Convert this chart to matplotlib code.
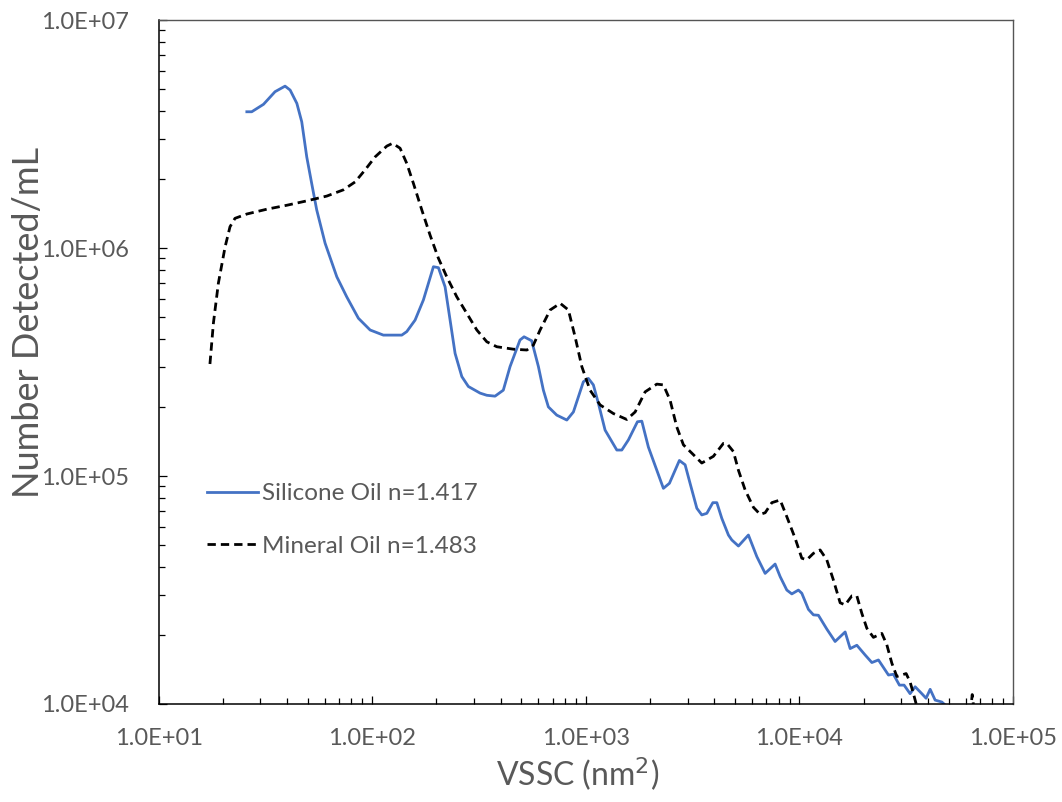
import matplotlib
matplotlib.use("Agg")
import matplotlib.pyplot as plt
from matplotlib.ticker import LogLocator, FuncFormatter, NullFormatter

# ── Data (VSSC in nm^2, counts per mL) ───────────────────────────────────────
silicone_x = [25.9, 27.3, 31.0, 35.1, 39.1, 41.3, 44.4, 46.8, 49.4, 52.1, 55.0,
              60.2, 68.3, 76.0, 86.2, 97.8, 112.8, 137.6, 145.2, 158.8, 173.7,
              193.5, 204.2, 219.4, 231.6, 244.4, 262.8, 282, 320, 344, 376, 411,
              442, 492, 514, 558, 600, 633, 668, 731, 815, 875, 974, 1028, 1085,
              1146, 1231, 1397, 1474, 1583, 1745, 1829, 1963, 2150, 2308, 2463,
              2742, 2917, 3077, 3310, 3491, 3686, 3933, 4106, 4332, 4652, 4826,
              5182, 5770, 6319, 6911, 7695, 8124, 8730, 9214, 9892, 10260, 11020,
              11630, 12270, 13440, 14690, 16370, 17280, 18570, 20310, 21830,
              23440, 26110, 27540, 29380, 30900, 32960, 34820, 37410, 39170,
              40930, 43190, 46430, 48080, 50000]
silicone_y = [3.96e6, 3.96e6, 4.27e6, 4.85e6, 5.13e6, 4.93e6, 4.31e6, 3.58e6,
              2.51e6, 1.92e6, 1.47e6, 1.05e6, 7.48e5, 6.11e5, 4.92e5, 4.37e5,
              4.15e5, 4.15e5, 4.30e5, 4.83e5, 5.92e5, 8.28e5, 8.20e5, 6.76e5,
              4.83e5, 3.45e5, 2.73e5, 2.47e5, 2.31e5, 2.26e5, 2.24e5, 2.38e5,
              3.02e5, 3.95e5, 4.08e5, 3.92e5, 3.02e5, 2.38e5, 2.01e5, 1.85e5,
              1.76e5, 1.91e5, 2.59e5, 2.68e5, 2.51e5, 2.08e5, 1.59e5, 1.30e5,
              1.30e5, 1.44e5, 1.73e5, 1.74e5, 1.34e5, 1.06e5, 8.83e4, 9.29e4,
              1.17e5, 1.12e5, 9.29e4, 7.22e4, 6.75e4, 6.86e4, 7.64e4, 7.64e4,
              6.52e4, 5.51e4, 5.24e4, 4.93e4, 5.51e4, 4.43e4, 3.74e4, 4.11e4,
              3.62e4, 3.16e4, 3.04e4, 3.16e4, 3.06e4, 2.60e4, 2.46e4, 2.45e4,
              2.13e4, 1.88e4, 2.07e4, 1.75e4, 1.81e4, 1.64e4, 1.52e4, 1.56e4,
              1.34e4, 1.35e4, 1.21e4, 1.21e4, 1.11e4, 1.19e4, 1.11e4, 1.06e4,
              1.16e4, 1.04e4, 1.02e4, 9.9e3, 9.5e3]

mineral_x = [17.4, 18.06, 19.05, 20.48, 21.6, 22.8, 25.9, 32.1, 39.8, 49.4,
             61.3, 73.3, 83.2, 92.6, 103.2, 117.1, 124.6, 135.1, 145.2, 156,
             170.7, 186.6, 204.2, 223.4, 248.9, 277.3, 308.9, 344, 383, 458, 530,
             568, 611, 681, 759, 829, 891, 958, 1047, 1167, 1346, 1556, 1702,
             1896, 2150, 2308, 2481, 2667, 2864, 3190, 3491, 3956, 4406, 4572,
             4909, 5182, 5569, 6090, 6546, 6911, 7430, 8124, 8730, 9549, 10260,
             10830, 11630, 12500, 13430, 14420, 15510, 16370, 17600, 18570,
             19590, 20680, 22200, 24310, 25650, 27080, 28580, 30130, 31590,
             32960, 34180, 35200, 42000, 55000, 63000, 64400, 67000]
mineral_y = [3.1e5, 4.68e5, 7.0e5, 1.01e6, 1.24e6, 1.35e6, 1.41e6, 1.48e6,
             1.54e6, 1.61e6, 1.69e6, 1.80e6, 1.95e6, 2.20e6, 2.51e6, 2.80e6,
             2.88e6, 2.74e6, 2.35e6, 1.92e6, 1.47e6, 1.14e6, 9.02e5, 7.48e5,
             6.11e5, 5.17e5, 4.37e5, 3.88e5, 3.69e5, 3.60e5, 3.57e5, 3.75e5,
             4.37e5, 5.35e5, 5.72e5, 5.35e5, 4.08e5, 3.02e5, 2.38e5, 2.05e5,
             1.88e5, 1.77e5, 1.91e5, 2.34e5, 2.53e5, 2.51e5, 2.15e5, 1.64e5,
             1.37e5, 1.24e5, 1.14e5, 1.22e5, 1.39e5, 1.39e5, 1.28e5, 1.06e5,
             8.69e4, 7.29e4, 6.79e4, 6.90e4, 7.64e4, 7.85e4, 6.63e4, 5.33e4,
             4.36e4, 4.29e4, 4.58e4, 4.74e4, 4.29e4, 3.50e4, 2.78e4, 2.72e4,
             2.98e4, 2.98e4, 2.50e4, 2.15e4, 1.96e4, 2.04e4, 1.82e4, 1.51e4,
             1.32e4, 1.34e4, 1.36e4, 1.25e4, 1.11e4, 1.0e4, 7.0e3, 6.0e3,
             9.0e3, 1.1e4, 8.0e3]

LABEL_SILICONE = "Silicone Oil n=1.417"
LABEL_MINERAL = "Mineral Oil n=1.483"

TEXT_GREY = "#595959"
BLUE = "#4472C4"

plt.rcParams["font.family"] = ["Lato", "DejaVu Sans"]

fig = plt.figure(figsize=(10.62, 8.02), dpi=100)
ax = fig.add_axes([0.1493, 0.1222, 0.8046, 0.8528])

ax.plot(silicone_x, silicone_y, color=BLUE, lw=2.0, label=LABEL_SILICONE)
ax.plot(mineral_x, mineral_y, color="black", lw=2.0, dashes=(3, 1.8),
        label=LABEL_MINERAL)

ax.set_xscale("log")
ax.set_yscale("log")
ax.set_xlim(10, 1e5)
ax.set_ylim(1e4, 1e7)

sci = FuncFormatter(lambda v, pos: f"{v:.1E}")
ax.xaxis.set_major_locator(LogLocator(base=10, numticks=10))
ax.yaxis.set_major_locator(LogLocator(base=10, numticks=10))
ax.xaxis.set_minor_locator(LogLocator(base=10, subs=range(2, 10), numticks=20))
ax.yaxis.set_minor_locator(LogLocator(base=10, subs=range(2, 10), numticks=20))
ax.xaxis.set_major_formatter(sci)
ax.yaxis.set_major_formatter(sci)
ax.xaxis.set_minor_formatter(NullFormatter())
ax.yaxis.set_minor_formatter(NullFormatter())

ax.tick_params(which="both", direction="in", colors="black",
               labelcolor=TEXT_GREY, labelsize=17, width=0.9)
ax.tick_params(which="major", length=6)
ax.tick_params(which="minor", length=4)
ax.tick_params(axis="x", which="major", pad=17)
ax.tick_params(axis="y", which="major", pad=21.5)

for side in ["left", "bottom"]:
    ax.spines[side].set_color("black")
    ax.spines[side].set_linewidth(1.1)
for side in ["top", "right"]:
    ax.spines[side].set_color("#555555")
    ax.spines[side].set_linewidth(1.0)

ax.set_xlabel("VSSC (nm$^2$)", fontsize=23, color=TEXT_GREY)
ax.set_ylabel("Number Detected/mL", fontsize=26, color=TEXT_GREY)
ax.xaxis.set_label_coords(0.491, -0.076)
ax.yaxis.set_label_coords(-0.133, 0.558)

leg = ax.legend(loc="center left", bbox_to_anchor=(0.057, 0.269),
                frameon=False, fontsize=17.5, handlelength=2.1,
                handletextpad=0.17, labelspacing=1.3, borderpad=0,
                borderaxespad=0)
for t in leg.get_texts():
    t.set_color(TEXT_GREY)

fig.savefig("out.png", dpi=100)
